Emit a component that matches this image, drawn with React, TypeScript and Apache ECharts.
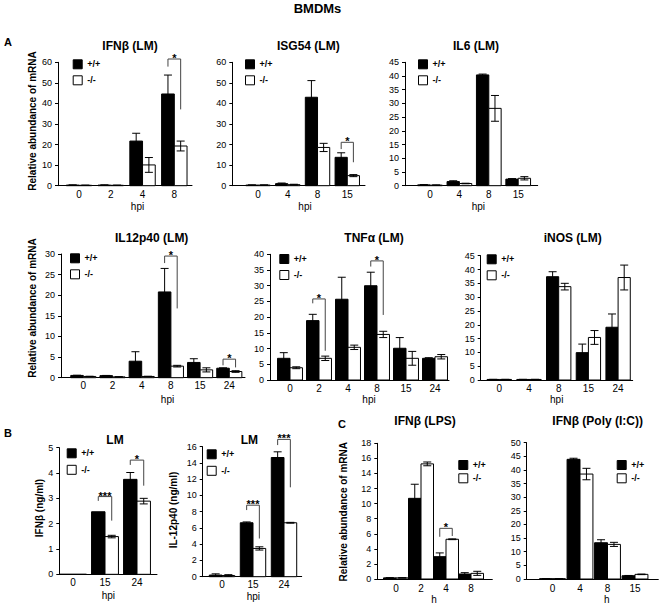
import React, { useEffect, useRef } from "react";
import * as echarts from "echarts";

const FONT = 'Arial, "Liberation Sans", sans-serif';

// ---------- A, row 1 ----------
const ifnbLmHpi = ["0", "2", "4", "8"];
const ifnbLmWT = [0.3, 0.3, 21.7, 44.6];
const ifnbLmWTErr = [0.1, 0.1, 3.8, 9.2];
const ifnbLmKO = [0.2, 0.2, 10.1, 19.3];
const ifnbLmKOErr = [0.1, 0.1, 3.6, 2.4];
const ifnbLmSig: any[] = [[3, 61.6, 57.9, 37.1, "*"]];

const isg54Hpi = ["0", "4", "8", "15"];
const isg54WT = [0.3, 1.0, 43.0, 13.8];
const isg54WTErr = [0.1, 0.3, 8.1, 2.2];
const isg54KO = [0.3, 0.5, 18.6, 4.9];
const isg54KOErr = [0.1, 0.2, 2.0, 0.5];
const isg54Sig: any[] = [[3, 21.1, 17.8, 11.4, "*"]];

const il6Hpi = ["0", "4", "8", "15"];
const il6WT = [0.3, 1.5, 40.4, 2.4];
const il6WTErr = [0.1, 0.3, 0.3, 0.2];
const il6KO = [0.2, 0.8, 28.2, 2.7];
const il6KOErr = [0.1, 0.1, 4.7, 0.6];
const il6Sig: any[] = [];

// ---------- A, row 2 ----------
const il12Hpi = ["0", "2", "4", "8", "15", "24"];
const il12WT = [0.55, 0.5, 4.0, 20.8, 3.7, 2.3];
const il12WTErr = [0.05, 0.05, 2.3, 5.7, 0.9, 0.1];
const il12KO = [0.3, 0.2, 0.3, 2.8, 1.9, 1.5];
const il12KOErr = [0.05, 0.05, 0.05, 0.2, 0.5, 0.2];
const il12Sig: any[] = [
  [3, 29.5, 27.8, 16.8, "*"],
  [5, 4.5, 3.0, 2.5, "*"],
];

const tnfHpi = ["0", "2", "4", "8", "15", "24"];
const tnfWT = [6.9, 18.9, 25.7, 30.0, 10.1, 6.9];
const tnfWTErr = [1.8, 2.0, 7.0, 4.3, 3.4, 0.2];
const tnfKO = [3.9, 6.9, 10.4, 14.5, 6.9, 7.4];
const tnfKOErr = [0.3, 0.7, 0.7, 1.0, 2.2, 0.7];
const tnfSig: any[] = [
  [1, 25.8, 24.4, 9.3, "*"],
  [3, 37.9, 36.1, 20.7, "*"],
];

const inosHpi = ["0", "4", "8", "15", "24"];
const inosWT = [0.2, 0.2, 37.4, 9.9, 19.1];
const inosWTErr = [0.05, 0.05, 1.8, 3.1, 4.8];
const inosKO = [0.2, 0.2, 33.8, 15.4, 37.1];
const inosKOErr = [0.05, 0.05, 1.2, 2.5, 4.5];
const inosSig: any[] = [];

// ---------- B ----------
const ifnbProtHpi = ["0", "15", "24"];
const ifnbProtWT = [0, 2.47, 3.75];
const ifnbProtWTErr = [0, 0, 0.27];
const ifnbProtKO = [0, 1.49, 2.89];
const ifnbProtKOErr = [0, 0.05, 0.11];
const ifnbProtSig: any[] = [
  [1, 3.07, 2.9, 2.12, "***"],
  [2, 4.51, 4.32, 3.5, "*"],
];

const il12ProtHpi = ["0", "15", "24"];
const il12ProtWT = [0.2, 6.64, 14.67];
const il12ProtWTErr = [0.15, 0.1, 0.7];
const il12ProtKO = [0.15, 3.48, 6.64];
const il12ProtKOErr = [0.1, 0.2, 0.05];
const il12ProtSig: any[] = [
  [1, 8.8, 8.2, 4.7, "***"],
  [2, 16.9, 16.2, 11.0, "***"],
];

// ---------- C ----------
const lpsH = ["0", "2", "4", "8"];
const lpsWT = [0.15, 10.7, 2.96, 0.66];
const lpsWTErr = [0.02, 1.87, 0.5, 0.18];
const lpsKO = [0.15, 15.27, 5.27, 0.75];
const lpsKOErr = [0.02, 0.25, 0.05, 0.27];
const lpsSig: any[] = [[2, 6.72, 5.6, 5.7, "*"]];

const polyH = ["0", "4", "8", "15"];
const polyWT = [0.1, 43.9, 13.3, 1.2];
const polyWTErr = [0.02, 0.4, 1.1, 0.1];
const polyKO = [0.1, 38.5, 12.7, 1.7];
const polyKOErr = [0.02, 2.1, 0.75, 0.1];
const polySig: any[] = [];

const panels = [
  { cats: ifnbLmHpi, wt: ifnbLmWT, wtErr: ifnbLmWTErr, ko: ifnbLmKO, koErr: ifnbLmKOErr, sig: ifnbLmSig, yMax: 60, yStep: 10 },
  { cats: isg54Hpi, wt: isg54WT, wtErr: isg54WTErr, ko: isg54KO, koErr: isg54KOErr, sig: isg54Sig, yMax: 60, yStep: 10 },
  { cats: il6Hpi, wt: il6WT, wtErr: il6WTErr, ko: il6KO, koErr: il6KOErr, sig: il6Sig, yMax: 45, yStep: 5 },
  { cats: il12Hpi, wt: il12WT, wtErr: il12WTErr, ko: il12KO, koErr: il12KOErr, sig: il12Sig, yMax: 30, yStep: 5 },
  { cats: tnfHpi, wt: tnfWT, wtErr: tnfWTErr, ko: tnfKO, koErr: tnfKOErr, sig: tnfSig, yMax: 40, yStep: 5 },
  { cats: inosHpi, wt: inosWT, wtErr: inosWTErr, ko: inosKO, koErr: inosKOErr, sig: inosSig, yMax: 45, yStep: 5 },
  { cats: ifnbProtHpi, wt: ifnbProtWT, wtErr: ifnbProtWTErr, ko: ifnbProtKO, koErr: ifnbProtKOErr, sig: ifnbProtSig, yMax: 5, yStep: 1 },
  { cats: il12ProtHpi, wt: il12ProtWT, wtErr: il12ProtWTErr, ko: il12ProtKO, koErr: il12ProtKOErr, sig: il12ProtSig, yMax: 16, yStep: 2 },
  { cats: lpsH, wt: lpsWT, wtErr: lpsWTErr, ko: lpsKO, koErr: lpsKOErr, sig: lpsSig, yMax: 18, yStep: 2 },
  { cats: polyH, wt: polyWT, wtErr: polyWTErr, ko: polyKO, koErr: polyKOErr, sig: polySig, yMax: 50, yStep: 5 },
];

// layout (pixels): y-axis x, plot top, baseline, first category centre, category step, axis end, bar width (in categories)
const layouts = [
  { yX: 58, top: 62.3, y0: 185.7, c0: 79, step: 31.77, end: 192, bw: 0.4, lx: 72.7, ly: 59.3, lg: 6, xm: 4 },
  { yX: 232.3, top: 62.3, y0: 185.7, c0: 258, step: 29.76, end: 365, bw: 0.41, lx: 245, ly: 59.3, lg: 6, xm: 4 },
  { yX: 405, top: 62.3, y0: 185.7, c0: 430, step: 29.4, end: 537.7, bw: 0.42, lx: 418, ly: 59.3, lg: 6, xm: 4 },
  { yX: 61, top: 254, y0: 377.7, c0: 83.3, step: 29.2, end: 245, bw: 0.43, lx: 70, ly: 253.3, lg: 6, xm: 3 },
  { yX: 270, top: 254.3, y0: 380, c0: 290, step: 29, end: 449, bw: 0.43, lx: 279.3, ly: 254, lg: 6, xm: 3 },
  { yX: 480.7, top: 255.7, y0: 380, c0: 499.3, step: 29.7, end: 632.7, bw: 0.41, lx: 486.7, ly: 254.3, lg: 6, xm: 3 },
  { yX: 59.3, top: 447.7, y0: 574.3, c0: 73, step: 32, end: 157, bw: 0.42, lx: 66.7, ly: 448.3, lg: 6.5, xm: 3 },
  { yX: 202.7, top: 446.7, y0: 576.7, c0: 222, step: 31, end: 301.7, bw: 0.41, lx: 206.7, ly: 449.3, lg: 6.5, xm: 3 },
  { yX: 377.3, top: 443.3, y0: 579, c0: 396, step: 25, end: 492.3, bw: 0.5, lx: 458.3, ly: 460, lg: 3.3, xm: 4 },
  { yX: 526.7, top: 442.7, y0: 579, c0: 552.5, step: 27.5, end: 658.3, bw: 0.47, lx: 616.7, ly: 460, lg: 3.3, xm: 4 },
];

const texts = [
  { t: "BMDMs", x: 317.5, y: 8.5, s: 13, b: true },
  { t: "A", x: 4, y: 42, s: 11, b: true, a: "left" },
  { t: "B", x: 4, y: 433, s: 11, b: true, a: "left" },
  { t: "C", x: 338, y: 423.7, s: 11, b: true, a: "left" },
  { t: "IFNβ (LM)", x: 130, y: 46, s: 12, b: true },
  { t: "ISG54 (LM)", x: 308.3, y: 45.7, s: 12, b: true },
  { t: "IL6 (LM)", x: 476, y: 45.7, s: 12, b: true },
  { t: "IL12p40 (LM)", x: 151.7, y: 238.3, s: 12, b: true },
  { t: "TNFα (LM)", x: 374, y: 238.3, s: 12, b: true },
  { t: "iNOS (LM)", x: 572.7, y: 238.3, s: 12, b: true },
  { t: "LM", x: 115, y: 440, s: 12, b: true },
  { t: "LM", x: 249.3, y: 440, s: 12, b: true },
  { t: "IFNβ (LPS)", x: 425, y: 420.7, s: 12, b: true },
  { t: "IFNβ (Poly (I:C))", x: 597.7, y: 420.7, s: 12, b: true },
  { t: "hpi", x: 137.5, y: 206.7, s: 10 },
  { t: "hpi", x: 305, y: 206.7, s: 10 },
  { t: "hpi", x: 478.3, y: 206.7, s: 10 },
  { t: "hpi", x: 167.5, y: 399, s: 10 },
  { t: "hpi", x: 369, y: 399, s: 10 },
  { t: "hpi", x: 556.7, y: 399.5, s: 10 },
  { t: "hpi", x: 108.3, y: 595, s: 10 },
  { t: "hpi", x: 253.3, y: 596, s: 10 },
  { t: "h", x: 434, y: 599.5, s: 10 },
  { t: "h", x: 606.7, y: 599.5, s: 10 },
  { t: "Relative abundance of mRNA", x: 32, y: 121, s: 10, b: true, r: true },
  { t: "Relative abundance of mRNA", x: 32.3, y: 308, s: 10, b: true, r: true },
  { t: "IFNβ (ng/ml)", x: 39.3, y: 508, s: 10, b: true, r: true },
  { t: "IL-12p40 (ng/ml)", x: 173, y: 510, s: 10, b: true, r: true },
  { t: "Relative abundance of mRNA", x: 343.3, y: 511.7, s: 10, b: true, r: true },
];

function barRender(side: number, bw: number, fill: string) {
  return (params: any, api: any) => {
    const i = api.value(0);
    const v = api.value(1);
    const e = api.value(2);
    const xl = side < 0 ? i - bw : i;
    const xr = side < 0 ? i : i + bw;
    const p0 = api.coord([xl, 0]);
    const p1 = api.coord([xr, v]);
    const children: any[] = [
      {
        type: "rect",
        shape: { x: p0[0], y: p1[1], width: p1[0] - p0[0], height: p0[1] - p1[1] },
        style: { fill, stroke: "#000", lineWidth: 1 },
      },
    ];
    if (e > 0) {
      const xc = (p0[0] + p1[0]) / 2;
      const yt = api.coord([i, v + e])[1];
      const yb = api.coord([i, Math.max(0, v - e)])[1];
      const cw = 4;
      const st = { stroke: "#000", lineWidth: 1 };
      children.push({ type: "line", shape: { x1: xc, y1: yt, x2: xc, y2: yb }, style: st });
      children.push({ type: "line", shape: { x1: xc - cw, y1: yt, x2: xc + cw, y2: yt }, style: st });
      children.push({ type: "line", shape: { x1: xc - cw, y1: yb, x2: xc + cw, y2: yb }, style: st });
    }
    return { type: "group", children };
  };
}

function sigRender(bw: number, sig: any[]) {
  return (params: any, api: any) => {
    const i = api.value(0);
    const top = api.value(1);
    const lb = api.value(2);
    const rb = api.value(3);
    const label = sig[params.dataIndex][4];
    const xl = api.coord([i - bw / 2, top])[0];
    const xr = api.coord([i + bw / 2, top])[0];
    const yt = api.coord([i, top])[1];
    const yl = api.coord([i, lb])[1];
    const yr = api.coord([i, rb])[1];
    return {
      type: "group",
      children: [
        {
          type: "polyline",
          shape: { points: [[xl, yl], [xl, yt], [xr, yt], [xr, yr]] },
          style: { stroke: "#444", fill: "none", lineWidth: 1 },
        },
        {
          type: "text",
          x: (xl + xr) / 2,
          y: yt - 1,
          style: {
            text: label,
            font: `bold 11px ${FONT}`,
            fill: "#000",
            textAlign: "center",
            textVerticalAlign: "middle",
            align: "center",
            verticalAlign: "middle",
          },
        },
      ],
    };
  };
}

function buildOption() {
  const grid: any[] = [];
  const xAxis: any[] = [];
  const yAxis: any[] = [];
  const series: any[] = [];
  const legend: any[] = [];
  const axisLineStyle = { color: "#000", width: 1 };

  panels.forEach((p, k) => {
    const L = layouts[k];
    grid.push({
      left: L.yX,
      top: L.top,
      width: L.end - L.yX,
      height: L.y0 - L.top,
      containLabel: false,
      outerBoundsMode: "none",
    });
    xAxis.push({
      gridIndex: k,
      type: "value",
      min: (L.yX - L.c0) / L.step,
      max: (L.end - L.c0) / L.step,
      axisLine: { show: true, lineStyle: axisLineStyle },
      axisTick: { show: false },
      splitLine: { show: false },
      axisLabel: {
        customValues: p.cats.map((_, i) => i),
        formatter: (v: number) => p.cats[Math.round(v)] ?? "",
        fontSize: 10,
        color: "#000",
        fontFamily: FONT,
        margin: L.xm,
      },
    });
    yAxis.push({
      gridIndex: k,
      type: "value",
      min: 0,
      max: p.yMax,
      interval: p.yStep,
      axisLine: { show: true, onZero: false, lineStyle: axisLineStyle },
      axisTick: { show: true, length: 3, lineStyle: { color: "#000" } },
      splitLine: { show: false },
      axisLabel: { fontSize: 9, color: "#000", fontFamily: FONT, margin: 6 },
    });
    series.push({
      type: "custom",
      name: "+/+",
      xAxisIndex: k,
      yAxisIndex: k,
      silent: true,
      clip: false,
      itemStyle: { color: "#000" },
      encode: { x: 0, y: 1 },
      data: p.wt.map((v, i) => [i, v, p.wtErr[i]]),
      renderItem: barRender(-1, L.bw, "#000"),
    });
    series.push({
      type: "custom",
      name: "-/-",
      xAxisIndex: k,
      yAxisIndex: k,
      silent: true,
      clip: false,
      itemStyle: { color: "#fff", borderColor: "#000", borderWidth: 1 },
      encode: { x: 0, y: 1 },
      data: p.ko.map((v, i) => [i, v, p.koErr[i]]),
      renderItem: barRender(1, L.bw, "#fff"),
    });
    if (p.sig.length) {
      series.push({
        type: "custom",
        name: "sig" + k,
        xAxisIndex: k,
        yAxisIndex: k,
        silent: true,
        clip: false,
        itemStyle: { color: "#444" },
        encode: { x: 0, y: 1 },
        data: p.sig.map((s) => [s[0], s[1], s[2], s[3]]),
        renderItem: sigRender(L.bw, p.sig),
      });
    }
    legend.push({
      left: L.lx,
      top: L.ly,
      orient: "vertical",
      padding: 0,
      itemWidth: 9,
      itemHeight: 9,
      itemGap: L.lg,
      icon: "rect",
      selectedMode: false,
      textStyle: { fontSize: 9, fontWeight: "bold", color: "#000", fontFamily: FONT, lineHeight: 9 },
      data: [
        { name: "+/+", itemStyle: { color: "#000", borderColor: "#000", borderWidth: 1 } },
        { name: "-/-", itemStyle: { color: "#fff", borderColor: "#000", borderWidth: 1 } },
      ],
    });
  });

  const graphic = texts.map((t: any) => ({
    type: "text",
    x: t.x,
    y: t.y,
    rotation: t.r ? Math.PI / 2 : 0,
    silent: true,
    style: {
      text: t.t,
      font: `${t.b ? "bold " : ""}${t.s}px ${FONT}`,
      fill: "#000",
      textAlign: t.a || "center",
      textVerticalAlign: "middle",
      align: t.a || "center",
      verticalAlign: "middle",
    },
  }));

  return {
    animation: false,
    backgroundColor: "#fff",
    grid,
    xAxis,
    yAxis,
    series,
    legend,
    graphic,
  };
}

export default function App() {
  const ref = useRef<HTMLDivElement>(null);
  useEffect(() => {
    document.body.style.margin = "0";
    const chart = echarts.init(ref.current!, null, { renderer: "svg" });
    chart.setOption(buildOption() as any);
    return () => chart.dispose();
  }, []);
  return <div ref={ref} style={{ width: 662, height: 606, background: "#fff" }} />;
}
